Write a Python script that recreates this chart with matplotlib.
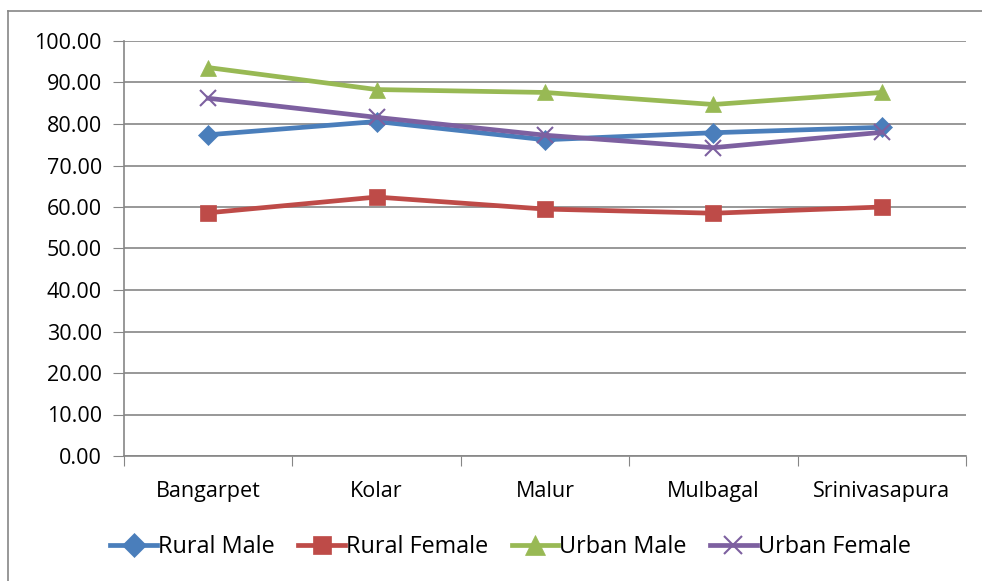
import numpy as np
import matplotlib.pyplot as plt
from matplotlib.lines import Line2D

districts = ["Bangarpet", "Kolar", "Malur", "Mulbagal", "Srinivasapura"]
rural_male = [77.4, 80.6, 76.2, 77.9, 79.2]
rural_female = [58.6, 62.4, 59.5, 58.5, 60.0]
urban_male = [93.6, 88.3, 87.6, 84.7, 87.6]
urban_female = [86.2, 81.6, 77.3, 74.3, 78.0]

series = [
    ("Rural Male", rural_male, "#4A7EBB", "D", 10),
    ("Rural Female", rural_female, "#BE4B48", "s", 11),
    ("Urban Male", urban_male, "#98B954", "^", 12),
    ("Urban Female", urban_female, "#7D60A0", "x", 11),
]

plt.rcParams['font.family'] = ['Open Sans', 'DejaVu Sans']
fs = 15.5

fig = plt.figure(figsize=(9.82, 5.81), dpi=100)
ax = fig.add_axes([124/982, 1 - 456/581, (966-124)/982, (456-41)/581])

x = np.arange(len(districts)) + 0.5
for name, vals, col, mk, ms in series:
    ax.plot(x, vals, color=col, lw=3.4, marker=mk, markersize=ms,
            markeredgewidth=1.5 if mk == "x" else 0.5, markeredgecolor=col,
            label=name)

ax.set_xlim(0, len(districts))
ax.set_ylim(0, 100)
ax.set_yticks(np.arange(0, 101, 10))
ax.set_yticklabels([f"{v:.2f}" for v in np.arange(0, 101, 10)], fontsize=fs)
ax.set_xticks(np.arange(len(districts) + 1))
ax.set_xticklabels([])
ax.set_xticks(x, minor=True)
ax.set_xticklabels(districts, minor=True, fontsize=fs)
ax.tick_params(axis='x', which='minor', length=0, pad=18)
ax.tick_params(axis='x', which='major', length=7, color='#868686')
ax.tick_params(axis='y', length=8, color='#868686', pad=8)
ax.grid(axis='y', color='#868686', lw=1.2)
ax.set_axisbelow(True)
for s in ['top', 'right']:
    ax.spines[s].set_visible(False)
for s in ['left', 'bottom']:
    ax.spines[s].set_color('#868686')
    ax.spines[s].set_linewidth(1.2)

fig.legend(loc='center', bbox_to_anchor=(0.52, 1 - 547/581), ncol=4,
           frameon=False, fontsize=16.8, handlelength=2, handletextpad=0.05,
           columnspacing=1.0, markerscale=1.2)

# outer chart frame
fig.add_artist(Line2D([8/982, 8/982], [0, 1 - 11/581], color='#868686', lw=1.2))
fig.add_artist(Line2D([8/982, 1], [1 - 11/581, 1 - 11/581], color='#868686', lw=1.2))

fig.savefig("out.png", dpi=100)
